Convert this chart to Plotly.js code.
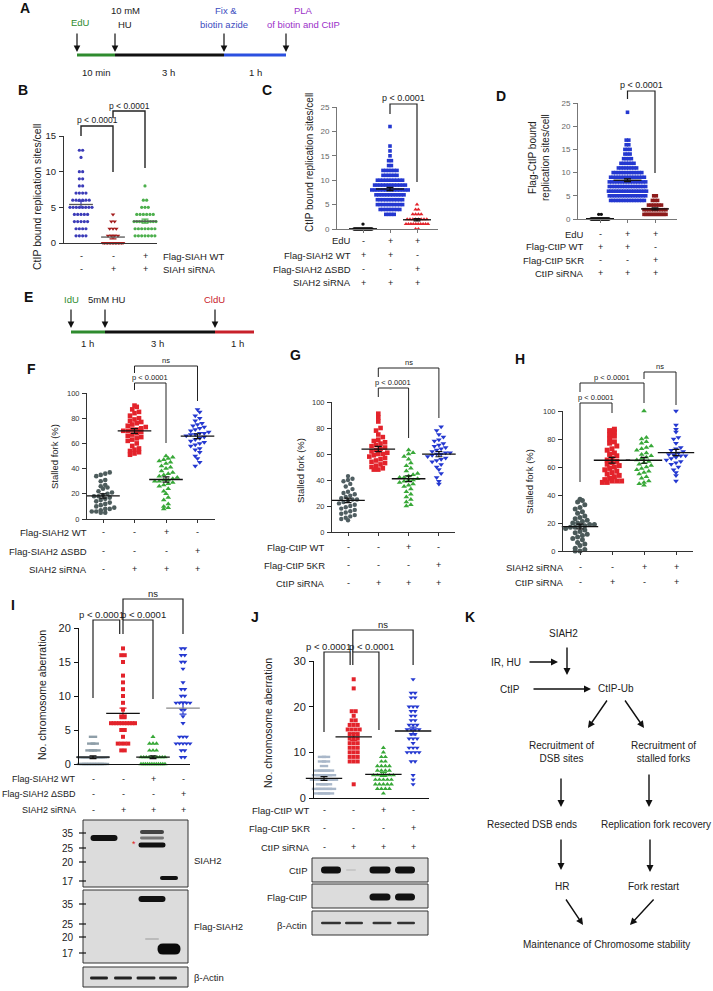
<!DOCTYPE html>
<html>
<head>
<meta charset="utf-8">
<script src="https://cdn.plot.ly/plotly-3.0.1.min.js"></script>
<style>
html,body{margin:0;padding:0;background:#fff;}
#chart{width:713px;height:991px;}
</style>
</head>
<body>
<div id="chart"></div>
<script>
// ================= DATA =================
// Panel B: CtIP bound replication sites/cell (value levels and number of dots at each level)
const B_ctrl_levels = [13,12,10,9,8,7,6,5,4,3,2,1];
const B_ctrl_counts = [2,1,2,2,2,4,6,8,5,5,4,4];
const B_si_levels = [4,3,2,1,0];
const B_si_counts = [1,2,3,4,14];
const B_siwt_levels = [8,6,5,4,3,2,1];
const B_siwt_counts = [1,2,3,6,9,7,7];
const B_rowLabels = ['Flag-SIAH WT','SIAH siRNA'];
const B_rowSigns = [['-','-','+'],['-','+','+']];

// Panel C
const C_noEdU_levels = [1,0];
const C_noEdU_counts = [1,20];
const C_wt_levels = [21,17,16,15,14,13,12,11,10,9,8,7,6,5,4,3];
const C_wt_counts = [1,1,1,1,2,2,6,6,10,12,14,11,10,10,8,4];
const C_dsbd_levels = [5,4,3,2,1,0];
const C_dsbd_counts = [1,2,4,8,10,2];
const C_rowLabels = ['EdU','Flag-SIAH2 WT','Flag-SIAH2 \u0394SBD','SIAH2 siRNA'];
const C_rowSigns = [['-','+','+'],['+','+','-'],['-','-','+'],['+','+','+']];

// Panel D
const D_noEdU_levels = [1,0];
const D_noEdU_counts = [2,25];
const D_wt_levels = [23,17,16,15,14,13,12,11,10,9,8,7,6,5,4];
const D_wt_counts = [1,2,2,3,3,4,6,8,12,14,15,15,16,15,14];
const D_5kr_levels = [5,4,3,2,1];
const D_5kr_counts = [2,3,6,10,12];
const D_rowLabels = ['EdU','Flag-CtIP WT','Flag-CtIP 5KR','CtIP siRNA'];
const D_rowSigns = [['-','+','+'],['+','+','-'],['-','-','+'],['+','+','+']];

// Panel F: Stalled fork (%)
const F_ctrl = [37,36,35,34,31,30,27,26,25,24,22,21,20,19,18,18,17,16,15,14,13,12,11,10,9,8,8,7,6,6,5,5];
const F_si = [90,89,87,85,84,82,80,79,78,77,76,75,74,73,72,71,71,70,70,69,68,67,66,65,64,63,62,60,58,56,55,54,53,52,51];
const F_siwt = [50,49,48,47,46,45,44,42,41,40,38,37,36,35,34,33,32,31,31,30,30,29,28,27,26,24,22,20,17,15,12,10,9,8];
const F_sidsbd = [87,85,82,80,78,76,75,74,73,72,71,70,69,68,68,67,67,66,65,64,63,62,61,60,59,58,56,55,53,50,48,45,42];
const F_rowLabels = ['Flag-SIAH2 WT','Flag-SIAH2 \u0394SBD','SIAH2 siRNA'];
const F_rowSigns = [['-','-','+','-'],['-','-','-','+'],['-','+','+','+']];

// Panel G
const G_ctrl = [43,41,40,39,37,35,33,31,30,29,28,27,26,25,25,24,23,22,21,20,19,18,17,16,15,14,13,12,11,10,9];
const G_si = [91,88,85,80,78,75,73,71,70,69,68,67,66,65,64,63,62,61,60,60,59,58,57,56,55,54,53,52,51,50,49,48,48];
const G_siwt = [63,61,60,58,56,53,51,49,47,45,44,43,42,42,41,40,40,39,38,37,36,35,33,31,29,27,25,23,21,20];
const G_si5kr = [81,78,75,73,71,70,68,67,66,65,64,63,62,61,61,60,60,59,58,57,56,55,54,52,50,48,45,42,39,37];
const G_rowLabels = ['Flag-CtIP WT','Flag-CtIP 5KR','CtIP siRNA'];
const G_rowSigns = [['-','-','+','-'],['-','-','-','+'],['-','+','+','+']];

// Panel H
const H_ctrl = [37,36,35,33,31,30,28,27,25,24,23,22,21,20,20,19,19,18,18,17,17,16,15,14,13,12,11,10,9,8,6,5,4,2,1,0,0];
const H_ctip = [87,86,85,83,82,80,78,77,75,73,72,70,69,68,66,65,64,63,62,61,60,59,58,57,56,55,54,53,52,51,50,50,50,49,49];
const H_siah = [100,81,80,78,77,75,74,73,72,70,69,68,67,66,65,64,63,62,61,60,59,58,57,56,55,53,52,50,49,48,47];
const H_both = [100,90,87,85,81,80,77,74,73,72,71,70,69,69,68,68,67,66,65,64,63,62,60,58,56,54,50];
const H_rowLabels = ['SIAH2 siRNA','CtIP siRNA'];
const H_rowSigns = [['-','-','+','+'],['-','+','-','+']];

// Panel I: No. chromosome aberration
const I_ctrl_levels = [4,3,2,1,0];
const I_ctrl_counts = [1,2,3,12,10];
const I_si_levels = [17,16,15,13,12,11,10,9,8,7,6,5,4,3,2];
const I_si_counts = [1,2,1,1,1,1,1,1,1,2,10,2,1,4,2];
const I_siwt_levels = [4,3,2,1,0];
const I_siwt_counts = [1,3,3,10,12];
const I_sidsbd_levels = [17,16,15,14,12,11,10,9,8,7,6,4,3,2,1];
const I_sidsbd_counts = [2,2,2,1,1,2,2,5,2,1,1,3,5,2,2];
const I_rowLabels = ['Flag-SIAH2 WT','Flag-SIAH2 \u0394SBD','SIAH2 siRNA'];
const I_rowSigns = [['-','-','+','-'],['-','-','-','+'],['-','+','+','+']];
const I_blotNames = ['SIAH2','Flag-SIAH2','\u03b2-Actin'];
const I_kDa = ['35','25','20','17'];

// Panel J
const J_ctrl_levels = [9,8,7,6,5,4,3,2,1];
const J_ctrl_counts = [2,2,1,4,5,6,3,5,4];
const J_si_levels = [26,24,19,18,17,16,15,14,13,12,11,10,9,8,3];
const J_si_counts = [1,1,2,1,2,3,4,3,3,3,3,3,3,3,1];
const J_siwt_levels = [11,10,9,8,7,6,5,4,3,2,1];
const J_siwt_counts = [1,1,2,2,4,4,6,5,5,4,1];
const J_si5kr_levels = [26,23,22,20,19,18,17,16,15,14,13,12,11,10,8,5,4,3];
const J_si5kr_counts = [1,2,2,3,2,2,2,3,4,2,3,1,3,4,2,1,1,1];
const J_rowLabels = ['Flag-CtIP WT','Flag-CtIP 5KR','CtIP siRNA'];
const J_rowSigns = [['-','-','+','-'],['-','-','-','+'],['-','+','+','+']];
const J_blotNames = ['CtIP','Flag-CtIP','\u03b2-Actin'];

// Panel A / E timelines
const A_steps = ['10 min','3 h','1 h'];
const E_steps = ['1 h','3 h','1 h'];

// Panel K model text
const K_nodes = ['SIAH2','IR, HU','CtIP','CtIP-Ub','Recruitment of<br>DSB sites','Recruitment of<br>stalled forks',
  'Resected DSB ends','Replication fork recovery','HR','Fork restart','Maintenance of Chromosome stability'];

// ================= HELPERS =================
const W = 713, H = 991;
const FONT = '"Liberation Sans", Arial, Helvetica, sans-serif';
const px = x => x / W, py = y => 1 - y / H;

function expand(levels, counts){ const out=[]; levels.forEach((v,i)=>{ for(let k=0;k<counts[i];k++) out.push(v); }); return out; }
function swarm(vals, bin, dx, maxW){
  const groups = {};
  vals.forEach((v,i)=>{ const key=Math.round(v/bin); (groups[key]=groups[key]||[]).push(i); });
  const off = new Array(vals.length).fill(0);
  Object.values(groups).forEach(g=>{
    let d = dx; if ((g.length-1)*d > maxW) d = maxW/(g.length-1);
    g.sort((a,b)=>vals[a]-vals[b]);
    g.forEach((idx,j)=>{ off[idx] = (j-(g.length-1)/2)*d; });
  });
  return off;
}
function stats(a){ const n=a.length; const m=a.reduce((s,v)=>s+v,0)/n; const sd=Math.sqrt(a.reduce((s,v)=>s+(v-m)*(v-m),0)/(n-1)); return [m, sd/Math.sqrt(n)]; }
function T(text, x, y, o){ o=o||{}; const f=Object.assign({family:FONT,size:9.5,color:'#222'}, o.font||{});
  const r = Object.assign({text:text, x:px(x), y:py(y), xref:'paper', yref:'paper', showarrow:false, xanchor:'center', yanchor:'middle'}, o); r.font=f; return r; }
function ARR(tx,ty,hx,hy,o){ return Object.assign({text:'', x:px(hx), y:py(hy), xref:'paper', yref:'paper', showarrow:true,
  ax:tx-hx, ay:ty-hy, axref:'pixel', ayref:'pixel', arrowhead:2, arrowsize:1, arrowwidth:1.3, arrowcolor:'#111', standoff:0}, o||{}); }
function LINE(x0,y0,x1,y1,color,w){ return {type:'line', xref:'paper', yref:'paper', x0:px(x0), y0:py(y0), x1:px(x1), y1:py(y1), line:{color:color, width:w}}; }
function RECT(x0,y0,x1,y1,fill,lc,lw){ return {type:'rect', xref:'paper', yref:'paper', x0:px(x0), y0:py(y0), x1:px(x1), y1:py(y1), fillcolor:fill, line:{color:lc, width:lw}}; }
function BAND(cx,cy,w,h,color){
  const x0=cx-w/2, x1=cx+w/2, y0=cy-h/2, y1=cy+h/2, r=Math.min(h/2, w/2);
  const P=(x,y)=>px(x).toFixed(5)+','+py(y).toFixed(5);
  const path = 'M'+P(x0+r,y0)+' L'+P(x1-r,y0)+' Q'+P(x1,y0)+' '+P(x1,y0+r)+' L'+P(x1,y1-r)+' Q'+P(x1,y1)+' '+P(x1-r,y1)+
    ' L'+P(x0+r,y1)+' Q'+P(x0,y1)+' '+P(x0,y1-r)+' L'+P(x0,y0+r)+' Q'+P(x0,y0)+' '+P(x0+r,y0)+' Z';
  return {type:'path', xref:'paper', yref:'paper', path:path, fillcolor:color, line:{width:0}};
}

// ================= PANEL SCATTER DEFINITIONS =================
const BLUE='#2438d0', RED='#e3232b', GREEN='#38a838', GRAY='#4d5c5c';
const PANELS = [
 {k:1, x0:64, x1:157, c0:81, step:32, yb:243, yt:136, yr:[0,15], ticks:[0,5,10,15], tf:9.5, tc:'#222', lc:'#333', xt:'', dx:3.3, maxW:22, meanW:17, bin:1,
  series:[
   {v:expand(B_ctrl_levels,B_ctrl_counts), sym:'circle', size:3.2, color:'#3b3bb8', err:'#3b3bb8', mean:'#555'},
   {v:expand(B_si_levels,B_si_counts), sym:'triangle-down', size:4, color:'#a31c1c', err:'#a31c1c', mean:'#555', maxW:20},
   {v:expand(B_siwt_levels,B_siwt_counts), sym:'circle', size:3.2, color:'#4caf4c', err:'#4caf4c', mean:'#555'}]},
 {k:2, x0:337, x1:438, c0:363, step:27, yb:229, yt:107, yr:[0,25], ticks:[0,5,10,15,20,25], tf:8, tc:'#666', lc:'#777', xt:'outside', dx:2.8, maxW:40, meanW:20, bin:1,
  series:[
   {v:expand(C_noEdU_levels,C_noEdU_counts), sym:'circle', size:3.4, color:'#111', maxW:18},
   {v:expand(C_wt_levels,C_wt_counts), sym:'square', size:3.6, color:BLUE},
   {v:expand(C_dsbd_levels,C_dsbd_counts), sym:'triangle-up', size:4, color:RED, maxW:22}]},
 {k:3, x0:578, x1:677, c0:600, step:27.5, yb:219, yt:103, yr:[0,25], ticks:[0,5,10,15,20,25], tf:8, tc:'#666', lc:'#777', xt:'outside', dx:2.6, maxW:38, meanW:20, bin:1,
  series:[
   {v:expand(D_noEdU_levels,D_noEdU_counts), sym:'circle', size:3.4, color:'#111', maxW:18},
   {v:expand(D_wt_levels,D_wt_counts), sym:'square', size:3.6, color:BLUE},
   {v:expand(D_5kr_levels,D_5kr_counts), sym:'square', size:3.6, color:'#8e1b1b', maxW:22}]},
 {k:4, x0:87, x1:215, c0:103, step:31.5, yb:519, yt:393, yr:[0,100], ticks:[0,20,40,60,80,100], tf:7.5, tc:'#333', lc:'#333', xt:'outside', dx:4.5, maxW:30, meanW:24, bin:4,
  series:[
   {v:F_ctrl, sym:'circle', size:4.6, color:GRAY},
   {v:F_si, sym:'square', size:4.6, color:RED},
   {v:F_siwt, sym:'triangle-up', size:5, color:GREEN},
   {v:F_sidsbd, sym:'triangle-down', size:5, color:BLUE}]},
 {k:5, x0:332, x1:455, c0:348, step:30.3, yb:532, yt:402, yr:[0,100], ticks:[0,20,40,60,80,100], tf:7.5, tc:'#333', lc:'#333', xt:'outside', dx:4.5, maxW:30, meanW:24, bin:4,
  series:[
   {v:G_ctrl, sym:'circle', size:4.4, color:'#505e62'},
   {v:G_si, sym:'square', size:4.6, color:RED},
   {v:G_siwt, sym:'triangle-up', size:5, color:GREEN},
   {v:G_si5kr, sym:'triangle-down', size:5, color:BLUE}]},
 {k:6, x0:563, x1:693, c0:580, step:32, yb:551, yt:411, yr:[0,100], ticks:[0,20,40,60,80,100], tf:7.5, tc:'#333', lc:'#333', xt:'outside', dx:4.8, maxW:32, meanW:26, bin:3.5,
  series:[
   {v:H_ctrl, sym:'circle', size:5, color:'#4b5a5a'},
   {v:H_ctip, sym:'square', size:5, color:RED},
   {v:H_siah, sym:'triangle-up', size:5, color:GREEN},
   {v:H_both, sym:'triangle-down', size:5, color:BLUE}]},
 {k:7, x0:79, x1:190, c0:93, step:30, yb:764, yt:628, yr:[0,20], ticks:[0,5,10,15,20], tf:11, tc:'#222', lc:'#111', xt:'', dx:3.5, maxW:24, meanW:24, bin:1,
  series:[
   {v:expand(I_ctrl_levels,I_ctrl_counts), sym:'line-ew', size:6, color:'#8e9ea8', lw:2.4},
   {v:expand(I_si_levels,I_si_counts), sym:'square', size:4, color:RED, err:RED},
   {v:expand(I_siwt_levels,I_siwt_counts), sym:'triangle-up', size:4.5, color:GREEN},
   {v:expand(I_sidsbd_levels,I_sidsbd_counts), sym:'triangle-down', size:4.5, color:BLUE, err:BLUE, mean:'#888'}]},
 {k:8, x0:314, x1:429, c0:324, step:29.7, yb:798, yt:661, yr:[0,30], ticks:[0,10,20,30], tf:11, tc:'#222', lc:'#111', xt:'', dx:4, maxW:28, meanW:26, bin:1,
  series:[
   {v:expand(J_ctrl_levels,J_ctrl_counts), sym:'line-ew', size:6, color:'#a9b7c9', lw:2.4},
   {v:expand(J_si_levels,J_si_counts), sym:'square', size:4, color:RED, err:RED},
   {v:expand(J_siwt_levels,J_siwt_counts), sym:'triangle-up', size:4.5, color:GREEN, err:GREEN},
   {v:expand(J_si5kr_levels,J_si5kr_counts), sym:'triangle-down', size:4.5, color:BLUE, err:BLUE}]}
];

const ROWS = [
 {k:1, labels:B_rowLabels, signs:B_rowSigns, ys:[256,269], lx:161, anchor:'left', fs:9.5},
 {k:2, labels:C_rowLabels, signs:C_rowSigns, ys:[241,255,269,283], lx:353, anchor:'right', fs:9.5},
 {k:3, labels:D_rowLabels, signs:D_rowSigns, ys:[234,247,260,273], lx:586, anchor:'right', fs:9.5},
 {k:4, labels:F_rowLabels, signs:F_rowSigns, ys:[532,551,569], lx:89, anchor:'right', fs:9.5},
 {k:5, labels:G_rowLabels, signs:G_rowSigns, ys:[547,565,583], lx:327, anchor:'right', fs:9.5},
 {k:6, labels:H_rowLabels, signs:H_rowSigns, ys:[567,582], lx:566, anchor:'right', fs:9.5},
 {k:7, labels:I_rowLabels, signs:I_rowSigns, ys:[779,794,810], lx:78, anchor:'right', fs:9},
 {k:8, labels:J_rowLabels, signs:J_rowSigns, ys:[810,828,847], lx:312, anchor:'right', fs:9.5}
];

const BRACKETS = [
 {k:1,a:1,b:2,top:126,la:136,lb:172,t:'p < 0.0001',fs:8.5,w:1.4},
 {k:1,a:2,b:3,top:111,la:118,lb:168,t:'p < 0.0001',fs:8.5,w:1.4},
 {k:2,a:2,b:3,top:104,la:114,lb:182,t:'p < 0.0001',fs:9,w:1.2},
 {k:3,a:2,b:3,top:91,la:99,lb:173,t:'p < 0.0001',fs:9,w:1.2},
 {k:4,a:2,b:4,top:366,la:373,lb:401,t:'ns',fs:7.5,w:1},
 {k:4,a:2,b:3,top:383,la:390,lb:443,t:'p < 0.0001',fs:7.5,w:1},
 {k:5,a:2,b:4,top:368,la:377,lb:418,t:'ns',fs:7.5,w:1},
 {k:5,a:2,b:3,top:388,la:397,lb:438,t:'p < 0.0001',fs:7.5,w:1},
 {k:6,a:3,b:4,top:372,la:379,lb:405,t:'ns',fs:7.5,w:1},
 {k:6,a:1,b:3,top:383,la:392,lb:403,t:'p < 0.0001',fs:7.5,w:1},
 {k:6,a:1,b:2,top:403,la:482,lb:413,t:'p < 0.0001',fs:7.5,w:1},
 {k:7,a:1,b:1.89,top:620,la:698,lb:634,t:'p < 0.0001',fs:9.5,w:1.2,tdx:-5},
 {k:7,a:2,b:3,top:620,la:634,lb:699,t:'p < 0.0001',fs:9.5,w:1.2,tdx:5},
 {k:7,a:2,b:4,top:599,la:620,lb:634,t:'ns',fs:9.5,w:1.2},
 {k:8,a:1,b:1.88,top:652,la:732,lb:665,t:'p < 0.0001',fs:9.5,w:1.2,tdx:-9},
 {k:8,a:1.97,b:2.85,top:652,la:665,lb:730,t:'p < 0.0001',fs:9.5,w:1.2,tdx:6},
 {k:8,a:1.97,b:4,top:630,la:652,lb:665,t:'ns',fs:9.5,w:1.2}
];

const YTITLES = [
 {t:'CtIP bound replication sites/cell', x:37, y:197, fs:10.5},
 {t:'CtIP bound replication sites/cell', x:310, y:163, fs:10},
 {t:'Flag-CtIP bound<br>replication sites/cell', x:539, y:158, fs:10},
 {t:'Stalled fork (%)', x:55, y:457, fs:9.5},
 {t:'Stalled fork (%)', x:300, y:471, fs:9.5},
 {t:'Stalled fork (%)', x:530, y:482, fs:9.5},
 {t:'No. chromosome aberration', x:42, y:695, fs:10.5},
 {t:'No. chromosome aberration', x:268, y:723, fs:10.5}
];

const LETTERS = [['A',25,8],['B',23,90],['C',267,90],['D',501,96],['E',28,297],['F',31,369],['G',295,355],['H',520,359],['I',13,605],['J',255,617],['K',470,617]];

// ================= BUILD =================
const traces = [], shapes = [], annotations = [];
const layout = {width:W, height:H, margin:{l:0,r:0,t:0,b:0}, paper_bgcolor:'#fff', plot_bgcolor:'rgba(0,0,0,0)', showlegend:false,
  font:{family:FONT, size:9.5, color:'#222'}};
const P = {};

PANELS.forEach(p=>{
  P[p.k] = p;
  const xa = p.k===1?'x':'x'+p.k, ya = p.k===1?'y':'y'+p.k;
  const r0 = 1 - (p.c0 - p.x0)/p.step, r1 = r0 + (p.x1 - p.x0)/p.step;
  p.r0 = r0;
  layout[p.k===1?'xaxis':'xaxis'+p.k] = {domain:[px(p.x0), px(p.x1)], range:[r0,r1], anchor:ya, showline:true, linecolor:p.lc, linewidth:1,
    ticks:p.xt, ticklen:3, tickcolor:p.lc, tickvals:p.series.map((s,i)=>i+1), showticklabels:false, showgrid:false, zeroline:false, fixedrange:true};
  layout[p.k===1?'yaxis':'yaxis'+p.k] = {domain:[py(p.yb), py(p.yt)], range:p.yr, anchor:xa, showline:true, linecolor:p.lc, linewidth:1,
    ticks:'outside', ticklen:4, tickcolor:p.lc, tickvals:p.ticks, tickfont:{family:FONT, size:p.tf, color:p.tc}, ticklabelstandoff:1,
    showgrid:false, zeroline:false, fixedrange:true};
  p.series.forEach((s,i)=>{
    const off = swarm(s.v, p.bin, p.dx/p.step, (s.maxW||p.maxW)/p.step);
    const mk = {symbol:s.sym, size:s.size, color:s.color};
    if (s.sym.indexOf('line')===0) mk.line = {color:s.color, width:s.lw||2};
    else mk.line = {width:0};
    traces.push({type:'scatter', mode:'markers', x:s.v.map((v,j)=>i+1+off[j]), y:s.v, xaxis:xa, yaxis:ya, cliponaxis:false, marker:mk, hoverinfo:'skip'});
    const st = stats(s.v);
    traces.push({type:'scatter', mode:'markers', x:[i+1], y:[st[0]], xaxis:xa, yaxis:ya, cliponaxis:false,
      marker:{symbol:'line-ew', size:p.meanW, color:s.mean||'#111', line:{width:1.3, color:s.mean||'#111'}},
      error_y:{type:'data', array:[st[1]], visible:true, color:s.err||'#111', thickness:1.2, width:3.5}, hoverinfo:'skip'});
  });
});

function Xpx(k, v){ const p=P[k]; return p.x0 + (v - p.r0)*p.step; }

// rows of +/- condition tables
ROWS.forEach(r=>{
  const xa = r.k===1?'x':'x'+r.k;
  r.labels.forEach((lab,i)=>{
    annotations.push(T(lab, r.lx, r.ys[i], {xanchor:r.anchor, font:{size:r.fs}}));
    r.signs[i].forEach((sg,j)=>{
      annotations.push({text:sg, x:j+1, xref:xa, y:py(r.ys[i]), yref:'paper', showarrow:false, xanchor:'center', yanchor:'middle',
        font:{family:FONT, size:9, color:'#222'}});
    });
  });
});

// significance brackets
BRACKETS.forEach(b=>{
  const xa = Xpx(b.k,b.a), xb = Xpx(b.k,b.b);
  const path = 'M'+px(xa)+','+py(b.la)+' L'+px(xa)+','+py(b.top)+' L'+px(xb)+','+py(b.top)+' L'+px(xb)+','+py(b.lb);
  shapes.push({type:'path', xref:'paper', yref:'paper', path:path, line:{color:'#222', width:b.w}});
  annotations.push(T(b.t, (xa+xb)/2 + (b.tdx||0), b.top-5.5, {font:{size:b.fs}}));
});

// y titles
YTITLES.forEach(t=>annotations.push(T(t.t, t.x, t.y, {textangle:-90, font:{size:t.fs}})));
// panel letters
LETTERS.forEach(l=>annotations.push(T('<b>'+l[0]+'</b>', l[1], l[2], {font:{size:14, color:'#111'}})));

// ---------- Panel A timeline ----------
const GREENT='#2e8b2e', BLUET='#2b50e0', PURP='#9b30c8';
[[77,115,GREENT],[115,224,'#111'],[224,286,BLUET]].forEach(s=>shapes.push(LINE(s[0],55,s[1],55,s[2],3)));
[77,115,224,286].forEach(x=>annotations.push(ARR(x,32,x,52,{arrowwidth:1.2,arrowsize:1.1})));
annotations.push(T('EdU',80,23,{font:{color:GREENT}}));
annotations.push(T('10 mM',125,11)); annotations.push(T('HU',125,24));
annotations.push(T('Fix &',226,11,{font:{color:'#3b4cc0'}})); annotations.push(T('biotin azide',224,24,{font:{color:'#3b4cc0'}}));
annotations.push(T('PLA',303,11,{font:{color:PURP}})); annotations.push(T('of biotin and CtIP',303,24,{font:{color:PURP}}));
[[96,A_steps[0]],[168,A_steps[1]],[255,A_steps[2]]].forEach(s=>annotations.push(T(s[1],s[0],72)));

// ---------- Panel E timeline ----------
[[71,105,GREENT],[105,215,'#111'],[215,254,'#c8202a']].forEach(s=>shapes.push(LINE(s[0],332,s[1],332,s[2],3)));
[71,105,215].forEach(x=>annotations.push(ARR(x,308,x,328,{arrowwidth:1.2,arrowsize:1.1})));
annotations.push(T('IdU',71,299,{font:{color:GREENT}}));
annotations.push(T('5mM HU',107,299));
annotations.push(T('CldU',214,299,{font:{color:'#c8202a'}}));
[[87,E_steps[0]],[157,E_steps[1]],[237,E_steps[2]]].forEach(s=>annotations.push(T(s[1],s[0],343)));

// ---------- Panel I western blots ----------
shapes.push(RECT(83,820,188,887,'#dcdcdc','#333',1));
shapes.push(RECT(83,890,188,963,'#dcdcdc','#333',1));
shapes.push(RECT(83,967,188,987,'#dcdcdc','#333',1));
[[833,848,862,881],[904,924,937,953]].forEach(ys=>ys.forEach((y,i)=>{
  shapes.push(LINE(79,y,86,y,'#111',1.2));
  annotations.push(T(I_kDa[i],76,y,{xanchor:'right',font:{size:10}}));
}));
[[104,838,27,6,'#111'],[152,832,24,4,'#444'],[152,838,24,3,'#777'],[152,845,27,5,'#111'],[169,878,18,4,'#111'],
 [152,899,27,6,'#111'],[152,939,14,2,'#bbb'],[169,949,23,11,'#0a0a0a'],
 [99,978,18,3,'#222'],[123,978,18,3,'#222'],[146,978,19,3,'#222'],[168,978,18,3,'#222']].forEach(b=>shapes.push(BAND(b[0],b[1],b[2],b[3],b[4])));
annotations.push(T('*',134,844,{font:{color:'#e02020',size:9}}));
annotations.push(T(I_blotNames[0],192,860,{xanchor:'left'}));
annotations.push(T(I_blotNames[1],192,926,{xanchor:'left'}));
annotations.push(T(I_blotNames[2],192,977,{xanchor:'left'}));

// ---------- Panel J western blots ----------
shapes.push(RECT(312,858,428,882,'#dcdcdc','#333',1));
shapes.push(RECT(312,884,428,908,'#dcdcdc','#333',1));
shapes.push(RECT(312,911,428,935,'#dcdcdc','#333',1));
[[331,870,20,7,'#111'],[351,870,10,2,'#c8c8c8'],[380,870,21,7,'#111'],[405,870,20,7,'#111'],
 [380,897,21,7,'#111'],[405,897,20,7,'#111'],
 [331,923,20,2.5,'#333'],[354,923,18,2.5,'#333'],[382,923,19,2.5,'#333'],[406,923,18,2.5,'#333']].forEach(b=>shapes.push(BAND(b[0],b[1],b[2],b[3],b[4])));
annotations.push(T(J_blotNames[0],309,870,{xanchor:'right'}));
annotations.push(T(J_blotNames[1],309,897,{xanchor:'right'}));
annotations.push(T(J_blotNames[2],309,925,{xanchor:'right'}));

// ---------- Panel K model ----------
const KF = {font:{size:10}};
annotations.push(T(K_nodes[0],563,633,KF));
annotations.push(T(K_nodes[1],506,662,KF));
annotations.push(T(K_nodes[2],510,689,KF));
annotations.push(T(K_nodes[3],616,688,KF));
annotations.push(T(K_nodes[4],561,752,KF));
annotations.push(T(K_nodes[5],663,752,KF));
annotations.push(T(K_nodes[6],532,824,KF));
annotations.push(T(K_nodes[7],656,824,KF));
annotations.push(T(K_nodes[8],562,886,KF));
annotations.push(T(K_nodes[9],653,886,KF));
annotations.push(T(K_nodes[10],606,944,KF));
[[567,646,567,675],[528,662,558,662],[532,689,591,689],[608,699,588,728],[624,699,644,728],
 [561,777,561,807],[649,773,649,807],[561,838,561,870],[650,838,650,872],[565,898,583,925],[655,898,630,925]]
 .forEach(a=>annotations.push(ARR(a[0],a[1],a[2],a[3],{arrowwidth:1.4,arrowsize:1})));

layout.shapes = shapes;
layout.annotations = annotations;
Plotly.newPlot('chart', traces, layout, {staticPlot:true, displayModeBar:false});
</script>
</body>
</html>
